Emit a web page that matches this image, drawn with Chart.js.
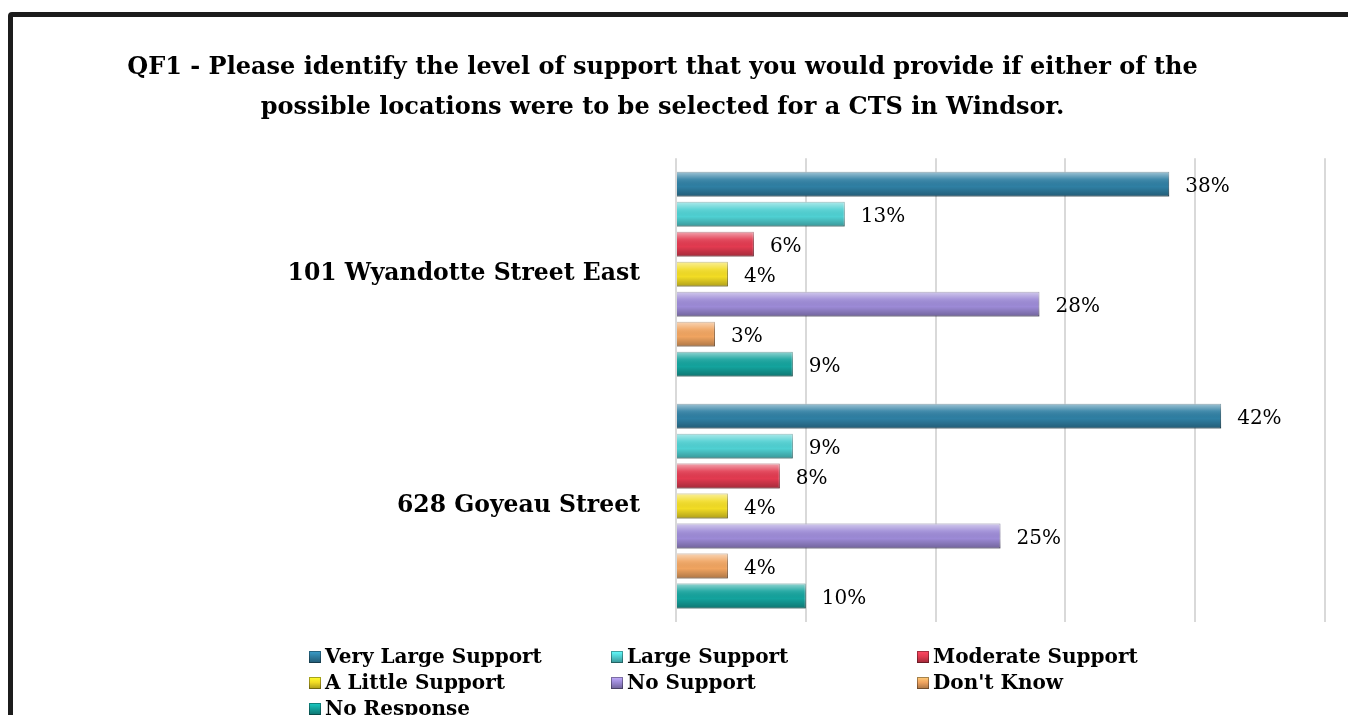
<!DOCTYPE html>
<html>
<head>
<meta charset="utf-8">
<script src="https://cdn.jsdelivr.net/npm/chart.js@4.4.1/dist/chart.umd.min.js"></script>
<style>
    html, body { margin: 0; padding: 0; background: #fff; overflow: hidden; }
    #wrap { position: relative; width: 1348px; height: 715px; }
    #frame {
        position: absolute; left: 8px; top: 12px; width: 1400px; height: 800px;
        border: 5px solid #1c1c1c; border-radius: 4px; box-sizing: border-box;
    }
    #chart { position: absolute; left: 0; top: 0; }
    #legend {
        position: absolute; left: 309px; top: 643px; width: 920px;
        display: grid; grid-template-columns: 302px 306px 300px;
        font: bold 20px 'DejaVu Serif', serif; line-height: 26px; color: #000;
    }
    #legend span.box {
        display: inline-block; width: 12px; height: 12px; margin-right: 4px;
        box-shadow: inset 0 0 0 1px rgba(0,0,0,0.35);
    }
</style>
</head>
<body>
<div id="wrap">
    <div id="frame"></div>
    <canvas id="chart" width="1348" height="715"></canvas>
    <div id="legend"></div>
</div>
<script>
// categories and series
const categories = ['101 Wyandotte Street East', '628 Goyeau Street'];
const seriesNames = ['Very Large Support', 'Large Support', 'Moderate Support', 'A Little Support', 'No Support', "Don't Know", 'No Response'];
const seriesColors = ['#2f7fa3', '#4fd0d2', '#e23a50', '#f2dc24', '#9c8ad6', '#f0a460', '#14a39d'];
const veryLarge = [38, 42];
const large = [13, 9];
const moderate = [6, 8];
const aLittle = [4, 4];
const noSupport = [28, 25];
const dontKnow = [3, 4];
const noResponse = [9, 10];
const xTicks = [0, 10, 20, 30, 40, 50];

const seriesValues = [veryLarge, large, moderate, aLittle, noSupport, dontKnow, noResponse];

function shade(hex, f) {
    const n = parseInt(hex.slice(1), 16);
    const r = Math.min(255, Math.round(((n >> 16) & 255) * f)),
          g = Math.min(255, Math.round(((n >> 8) & 255) * f)),
          b = Math.min(255, Math.round((n & 255) * f));
    return `rgb(${r},${g},${b})`;
}

// bevel look on bars + value labels
const barExtras = {
    id: 'barExtras',
    afterDatasetsDraw(chart) {
        const ctx = chart.ctx;
        chart.data.datasets.forEach((ds, i) => {
            chart.getDatasetMeta(i).data.forEach((bar, j) => {
                const { x, y, base, height } = bar.getProps(['x', 'y', 'base', 'height'], true);
                const top = y - height / 2;
                const g = ctx.createLinearGradient(0, top, 0, top + height);
                g.addColorStop(0, 'rgba(255,255,255,0.55)');
                g.addColorStop(0.3, 'rgba(255,255,255,0.1)');
                g.addColorStop(0.6, 'rgba(0,0,0,0)');
                g.addColorStop(1, 'rgba(0,0,0,0.28)');
                ctx.save();
                ctx.fillStyle = g;
                ctx.fillRect(base, top, x - base, height);
                ctx.fillStyle = '#000';
                ctx.font = '20px "DejaVu Serif", serif';
                ctx.textBaseline = 'middle';
                ctx.textAlign = 'left';
                ctx.fillText(ds.data[j] + '%', x + 16, y + 3);
                ctx.restore();
            });
        });
    }
};

new Chart(document.getElementById('chart').getContext('2d'), {
    type: 'bar',
    data: {
        labels: categories,
        datasets: seriesNames.map((name, i) => ({
            label: name,
            data: seriesValues[i],
            backgroundColor: seriesColors[i],
            borderColor: shade(seriesColors[i], 0.6),
            borderWidth: 1,
            categoryPercentage: 0.905,
            barPercentage: 0.83
        }))
    },
    options: {
        indexAxis: 'y',
        responsive: false,
        animation: false,
        layout: { padding: { left: 0, right: 23, top: 0, bottom: 93 } },
        plugins: {
            legend: { display: false },
            tooltip: { enabled: false },
            title: {
                display: true,
                text: ['QF1 - Please identify the level of support that you would provide if either of the',
                       'possible locations were to be selected for a CTS in Windsor.'],
                color: '#000',
                font: { family: 'DejaVu Serif', size: 24, weight: 'bold', lineHeight: 1.67 },
                padding: { top: 48, bottom: 30 }
            }
        },
        scales: {
            x: {
                min: 0, max: 50,
                afterBuildTicks: s => { s.ticks = xTicks.map(v => ({ value: v })); },
                afterFit: s => { s.height = 0; },
                ticks: { display: false },
                grid: { color: '#d9d9d9', lineWidth: 2, drawTicks: false },
                border: { display: false }
            },
            y: {
                afterFit: s => { s.width = 676; },
                ticks: { color: '#000', padding: 28, font: { family: 'DejaVu Serif', size: 23.5, weight: 'bold' } },
                grid: { display: false },
                border: { display: false }
            }
        }
    },
    plugins: [barExtras]
});

// legend in three columns
const legend = document.getElementById('legend');
seriesNames.forEach((name, i) => {
    const item = document.createElement('div');
    const c = seriesColors[i];
    item.innerHTML = `<span class="box" style="background:linear-gradient(${shade(c, 1.25)}, ${c} 45%, ${shade(c, 0.7)})"></span>${name}`;
    legend.appendChild(item);
});
</script>
</body>
</html>
